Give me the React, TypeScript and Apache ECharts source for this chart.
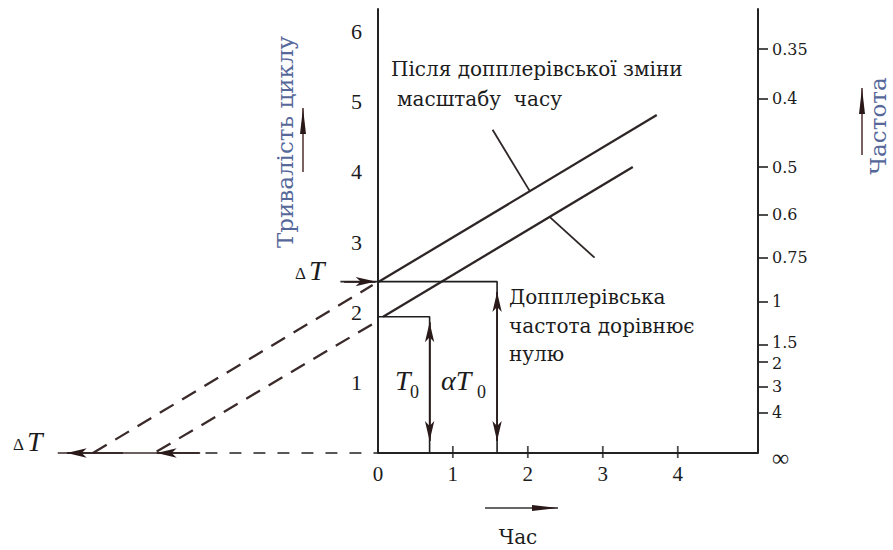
import React, { useEffect, useRef } from "react";
import * as echarts from "echarts";

// ---- data ----
const leftTickValues = [1, 2, 3, 4, 5, 6];
const timeTickValues = [1, 2, 3, 4];
const freqLabels = ["0.35", "0.4", "0.5", "0.6", "0.75", "1", "1.5", "2", "3", "4", "∞"];
const freqPositions = [5.75, 5.04, 4.07, 3.39, 2.78, 2.15, 1.54, 1.3, 0.94, 0.58, 0];
// label anchors (the two tight labels nudged apart slightly so they do not collide)
const freqLabelPositions = [5.75, 5.04, 4.07, 3.39, 2.78, 2.15, 1.57, 1.27, 0.94, 0.58, 0];

const upperSolid = [[0, 2.43], [3.72, 4.81]];
const upperDashed = [[-3.8, 0], [-0.07, 2.39]];
const lowerSolid = [[0.07, 1.94], [3.4, 4.07]];
const lowerDashed = [[-2.95, 0.02], [-0.08, 1.83]];
const crossUpper = [[1.53, 4.6], [2.03, 3.72]];
const crossLower = [[2.29, 3.36], [2.89, 2.78]];
const t0Bracket = [[0, 1.94], [0.69, 1.94], [0.69, 0]];
const aT0Bracket = [[0, 2.44], [1.59, 2.44], [1.59, 0]];
const deltaTopLine = [[-0.5, 2.44], [0, 2.44]];
const timeAxisLine = [[0, 0], [5.07, 0]];
const timeAxisDashed = [[-2.3, 0], [0, 0]];
const deltaBottomLine = [[-4.27, 0], [-2.37, 0]];

// arrow segments: [from, to]  (head at "to")
const arrowSegments = [
  [[0.69, 1.0], [0.69, 1.86]],
  [[0.69, 1.0], [0.69, 0.17]],
  [[1.59, 1.2], [1.59, 2.29]],
  [[1.59, 1.2], [1.59, 0.17]],
  [[-0.45, 2.44], [-0.03, 2.44]],
  [[-3.4, 0], [-4.15, 0]],
  [[-2.38, 0], [-2.95, 0]],
];

const X_MIN = -5;
const X_MAX = 5.07;
const GRID_LEFT = 3;
const GRID_RIGHT_PX = 758;

const SERIF = '"Liberation Serif", "DejaVu Serif", serif';
const SLAB = '"DejaVu Serif", "Liberation Serif", serif';
const INK = "#1c1c1c";
const LINE = "#2e2626";
const BLUE = "#56679a";

function lineSeries(name: string, data: number[][], opts: any = {}) {
  return {
    name,
    type: "line",
    data,
    symbol: "none",
    clip: false,
    silent: true,
    lineStyle: { color: opts.color || LINE, width: opts.width || 2, type: opts.type || "solid" },
    z: opts.z || 3,
  };
}

function arrowGraphic(x1: number, y1: number, x2: number, y2: number, color: string) {
  const dx = x2 - x1, dy = y2 - y1;
  const len = Math.sqrt(dx * dx + dy * dy);
  const ux = dx / len, uy = dy / len;
  const hl = 26, hw = 3;
  const bx = x2 - ux * hl, by = y2 - uy * hl;
  return [
    { type: "line", shape: { x1, y1, x2, y2 }, style: { stroke: color, lineWidth: 1.6 } },
    {
      type: "polygon",
      shape: { points: [[x2, y2], [bx - uy * hw, by + ux * hw], [bx + uy * hw, by - ux * hw]] },
      style: { fill: "#2a1818" },
    },
  ];
}

function txt(text: string, x: number, y: number, size: number, extra: any = {}) {
  return {
    type: "text",
    x,
    y,
    rotation: extra.rotation || 0,
    style: {
      text,
      fill: extra.fill || INK,
      fontSize: size,
      fontFamily: extra.family || SERIF,
      fontStyle: extra.italic ? "italic" : "normal",
      textAlign: extra.align || "left",
      textVerticalAlign: "middle",
    },
    z: 10,
  };
}

export default function App() {
  const ref = useRef<HTMLDivElement>(null);
  useEffect(() => {
    document.body.style.margin = "0";
    const chart = echarts.init(ref.current as HTMLDivElement, null, { renderer: "svg" });
    const pxPerUnit = (GRID_RIGHT_PX - GRID_LEFT) / (X_MAX - X_MIN);
    const zeroOffset = -(0 - X_MIN) * pxPerUnit;
    const option: any = {
      animation: false,
      backgroundColor: "#ffffff",
      grid: {
        left: GRID_LEFT,
        right: 893 - GRID_RIGHT_PX,
        top: 9,
        bottom: 97,
        containLabel: false,
        outerBoundsMode: "none",
      },
      xAxis: {
        type: "value",
        min: X_MIN,
        max: X_MAX,
        interval: 1,
        axisLine: { show: false },
        axisTick: { show: false },
        splitLine: { show: false },
        axisLabel: {
          showMinLabel: false,
          showMaxLabel: false,
          margin: 10,
          color: INK,
          fontSize: 21,
          fontFamily: SERIF,
          formatter: (v: number) => (v >= 0 && v <= 4 ? String(v) : ""),
        },
      },
      yAxis: [
        {
          type: "value",
          min: 0,
          max: 6.32,
          interval: 1,
          position: "left",
          offset: zeroOffset,
          axisLine: { show: true, onZero: false, lineStyle: { color: "#222", width: 2 } },
          axisTick: { show: false },
          splitLine: { show: false },
          axisLabel: {
            showMaxLabel: false,
            margin: 16,
            color: INK,
            fontSize: 22,
            fontFamily: SERIF,
            formatter: (v: number) => (leftTickValues.indexOf(v) >= 0 ? String(v) : ""),
          },
        },
        {
          type: "value",
          min: 0,
          max: 6.32,
          position: "right",
          axisLine: { show: true, onZero: false, lineStyle: { color: "#222", width: 2 } },
          axisTick: {
            show: true,
            length: 10,
            customValues: freqPositions.filter((p) => p > 0),
            lineStyle: { color: "#222", width: 1.6 },
          },
          splitLine: { show: false },
          axisLabel: {
            customValues: freqLabelPositions,
            margin: 14,
            color: INK,
            fontSize: 16,
            lineHeight: 15,
            fontFamily: SLAB,
            rich: {
              inf: { fontSize: 24, lineHeight: 18, fontFamily: SERIF, color: INK, padding: [10, 0, 0, 0] },
            },
            formatter: (v: number) => {
              const i = freqLabelPositions.findIndex((p) => Math.abs(p - v) < 1e-6);
              if (i < 0) return "";
              return freqLabels[i] === "∞" ? "{inf|∞}" : freqLabels[i];
            },
          },
        },
      ],
      series: [
        lineSeries("timeAxis", timeAxisLine, { color: "#222", width: 2 }),
        lineSeries("timeAxisDashed", timeAxisDashed, { color: "#222", width: 1.6, type: [12, 12] }),
        lineSeries("deltaBottom", deltaBottomLine, { color: "#3a2a2a", width: 1.6 }),
        lineSeries("upperSolid", upperSolid, { width: 2.3 }),
        lineSeries("upperDashed", upperDashed, { width: 2.3, type: [16, 10], color: "#3b2a2a" }),
        lineSeries("lowerSolid", lowerSolid, { width: 2.3 }),
        lineSeries("lowerDashed", lowerDashed, { width: 2.3, type: [16, 10], color: "#3b2a2a" }),
        lineSeries("crossUpper", crossUpper, { width: 1.8 }),
        lineSeries("crossLower", crossLower, { width: 1.8 }),
        lineSeries("t0", t0Bracket, { width: 1.6, color: "#1e1e1e" }),
        lineSeries("aT0", aT0Bracket, { width: 1.6, color: "#1e1e1e" }),
        lineSeries("deltaTop", deltaTopLine, { width: 1.6, color: "#2a2a2a" }),
        {
          name: "timeTicks",
          type: "scatter",
          data: timeTickValues.map((v) => [v, 0]),
          symbol: "rect",
          symbolSize: [1.8, 12],
          symbolOffset: [0, -1],
          itemStyle: { color: "#222" },
          silent: true,
          clip: false,
          z: 4,
        },
        {
          name: "arrows",
          type: "line",
          data: [],
          markLine: {
            silent: true,
            symbol: ["none", "arrow"],
            symbolSize: [7, 20],
            label: { show: false },
            lineStyle: { color: "#2a1a1a", width: 1.6, type: "solid" },
            data: arrowSegments.map((s) => [{ coord: s[0] }, { coord: s[1] }]),
          },
          z: 5,
        },
      ],
      graphic: [
        txt("Тривалість циклу", 285, 142, 23, { rotation: Math.PI / 2, fill: BLUE, align: "center", family: SLAB }),
        txt("Частота", 878, 126, 23, { rotation: Math.PI / 2, fill: BLUE, align: "center", family: SLAB }),
        txt("Час", 518, 537, 20, { align: "center", family: SLAB }),
        txt("Після допплерівської зміни", 391, 69, 20, { family: SLAB }),
        txt("масштабу  часу", 397, 99, 20, { family: SLAB }),
        txt("Допплерівська", 509, 297, 20, { family: SLAB }),
        txt("частота дорівнює", 509, 326, 20, { family: SLAB }),
        txt("нулю", 509, 354, 20, { family: SLAB }),
        txt("Δ", 295, 273, 17),
        txt("T", 309, 270, 28, { italic: true }),
        txt("Δ", 13, 444, 17),
        txt("T", 27, 441, 28, { italic: true }),
        txt("T", 395, 380, 28, { italic: true }),
        txt("0", 410, 392, 18),
        txt("αT", 441, 380, 28, { italic: true }),
        txt("0", 477, 392, 18),
        ...arrowGraphic(303, 172, 303, 108, "#5a3a3a"),
        ...arrowGraphic(862, 155, 862, 88, "#5a3a3a"),
        ...arrowGraphic(485, 508, 558, 508, "#333"),
      ],
    };
    chart.setOption(option);
    return () => chart.dispose();
  }, []);
  return (
    <div
      ref={ref}
      style={{ position: "fixed", left: 0, top: 0, width: 893, height: 550, background: "#fff" }}
    />
  );
}
